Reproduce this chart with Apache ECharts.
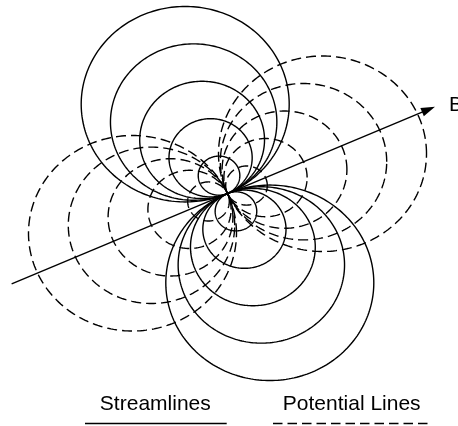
<!DOCTYPE html>
<html><head><meta charset="utf-8">
<script src="https://cdn.jsdelivr.net/npm/echarts@6/dist/echarts.min.js"></script>
<style>html,body{margin:0;padding:0;background:#fff}#c{width:458px;height:426px}</style>
</head><body><div id="c"></div>
<script>
// ---- data (in dipole units) ----
const streamlineRadii = [1, 2, 3, 4, 5];
const potentialRadii = [1, 2, 3, 4, 5];
const axisAngleDeg = 24;            // direction of axis B
const axisExtent = [-11.36, 10.92]; // start / end of axis B along its direction
const axisName = 'B';
const legendLabels = ['Streamlines', 'Potential Lines'];

const th = axisAngleDeg * Math.PI / 180;
const ct = Math.cos(th), st = Math.sin(th);
const FONT = '21px "Liberation Sans", Arial, sans-serif';
const LW = 1.4;
const DASH = [10, 5];

// items: [radius, side, kind] kind 0 = streamline, 1 = potential
const circleItems = [];
streamlineRadii.forEach(r => { circleItems.push([r, 1, 0]); circleItems.push([r, -1, 0]); });
potentialRadii.forEach(r => { circleItems.push([r, 1, 1]); circleItems.push([r, -1, 1]); });

function renderCircle(params, api) {
  const r = api.value(0), s = api.value(1), kind = api.value(2);
  let cx, cy;
  if (kind === 0) { cx = -s * r * st; cy = s * r * ct; }
  else { cx = -s * r * ct; cy = -s * r * st; }
  const pts = [];
  const N = 240;
  for (let k = 0; k <= N; k++) {
    const a = k / N * Math.PI * 2;
    pts.push(api.coord([cx + r * Math.cos(a), cy + r * Math.sin(a)]));
  }
  return {
    type: 'polyline',
    shape: { points: pts },
    style: { stroke: '#000', lineWidth: LW, fill: null, lineDash: kind === 1 ? DASH : null }
  };
}

function renderAxis(params, api) {
  const a0 = api.value(0), a1 = api.value(1);
  const p0 = api.coord([a0 * ct, a0 * st]);
  const p1 = api.coord([a1 * ct, a1 * st]);
  let dx = p1[0] - p0[0], dy = p1[1] - p0[1];
  const L = Math.hypot(dx, dy); dx /= L; dy /= L;
  const hl = 14, hw = 4.5;
  const bx = p1[0] - dx * hl, by = p1[1] - dy * hl;
  const nx = -dy, ny = dx;
  return {
    type: 'group',
    children: [
      { type: 'line', shape: { x1: p0[0], y1: p0[1], x2: bx + dx * 2, y2: by + dy * 2 },
        style: { stroke: '#000', lineWidth: LW } },
      { type: 'polygon', shape: { points: [[p1[0], p1[1]], [bx + nx * hw, by + ny * hw], [bx - nx * hw, by - ny * hw]] },
        style: { fill: '#000' } },
      { type: 'text', style: { text: axisName, x: p1[0] + 14, y: p1[1] - 1.3, textAlign: 'left',
        textVerticalAlign: 'middle', font: FONT, fill: '#000' } }
    ]
  };
}

const chart = echarts.init(document.getElementById('c'), null, { renderer: 'canvas' });
chart.setOption({
  animation: false,
  backgroundColor: '#fff',
  grid: { left: 0, right: 0, top: 0, bottom: 0, containLabel: false },
  xAxis: { type: 'value', min: -10.9375, max: 11.0817, show: false },
  yAxis: { type: 'value', min: -11.8926, max: 9.8977, show: false },
  series: [
    { type: 'custom', silent: true, clip: false, renderItem: renderCircle, data: circleItems,
      encode: { x: -1, y: -1 } },
    { type: 'custom', silent: true, clip: false, renderItem: renderAxis, data: [axisExtent],
      encode: { x: -1, y: -1 } }
  ],
  graphic: [
    { type: 'text', x: 155.3, y: 404.5, style: { text: legendLabels[0], x: 0, y: 0, textAlign: 'center', textVerticalAlign: 'middle', font: FONT, fill: '#000' } },
    { type: 'text', x: 351.7, y: 404.5, style: { text: legendLabels[1], x: 0, y: 0, textAlign: 'center', textVerticalAlign: 'middle', font: FONT, fill: '#000' } },
    { type: 'line', shape: { x1: 85, y1: 423.5, x2: 226.7, y2: 423.5 }, style: { stroke: '#000', lineWidth: LW } },
    { type: 'line', shape: { x1: 273, y1: 423.5, x2: 428.5, y2: 423.5 }, style: { stroke: '#000', lineWidth: LW, lineDash: [9.5, 5] } }
  ]
});
</script>
</body></html>
